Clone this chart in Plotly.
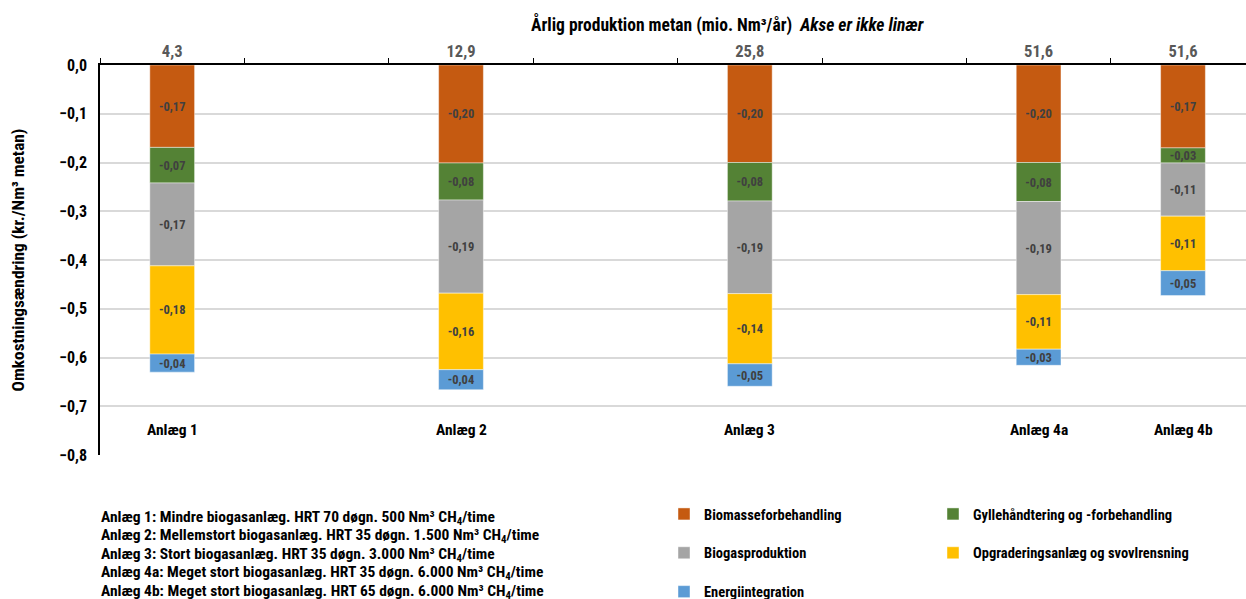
import plotly.graph_objects as go

# Plants and their annual methane production (mio. Nm³/år)
plants = ["Anlæg 1", "Anlæg 2", "Anlæg 3", "Anlæg 4a", "Anlæg 4b"]
production = ["4,3", "12,9", "25,8", "51,6", "51,6"]

# Cost change per cost component (kr./Nm³ metan)
biomasse = [-0.169, -0.201, -0.200, -0.200, -0.170]
gylle = [-0.073, -0.076, -0.079, -0.080, -0.031]
biogas = [-0.170, -0.191, -0.190, -0.191, -0.109]
opgradering = [-0.181, -0.157, -0.144, -0.112, -0.112]
energi = [-0.037, -0.041, -0.046, -0.033, -0.051]

series = [
    ("Biomasseforbehandling", biomasse, "#C55A11", "legend"),
    ("Gyllehåndtering og -forbehandling", gylle, "#548235", "legend2"),
    ("Biogasproduktion", biogas, "#A5A5A5", "legend"),
    ("Opgraderingsanlæg og svovlrensning", opgradering, "#FFC000", "legend2"),
    ("Energiintegration", energi, "#5B9BD5", "legend"),
]

descriptions = [
    "Anlæg 1: Mindre biogasanlæg. HRT 70 døgn. 500 Nm³ CH<sub>4</sub>/time",
    "Anlæg 2: Mellemstort biogasanlæg. HRT 35 døgn. 1.500 Nm³ CH<sub>4</sub>/time",
    "Anlæg 3: Stort biogasanlæg. HRT 35 døgn. 3.000 Nm³ CH<sub>4</sub>/time",
    "Anlæg 4a: Meget stort biogasanlæg. HRT 35 døgn. 6.000 Nm³ CH<sub>4</sub>/time",
    "Anlæg 4b: Meget stort biogasanlæg. HRT 65 døgn. 6.000 Nm³ CH<sub>4</sub>/time",
]

FONT = "Roboto Condensed, Open Sans Condensed, Liberation Sans, Arial, sans-serif"

# Plot area in pixels: left 100, top 65, bottom 455, right edge of the page
PL, PT, PB, PW = 100, 65, 455, 1146
PH = PB - PT


def px_x(x):
    return (x - PL) / PW


def px_y(y):
    return (PB - y) / PH


# Category slots on the x axis (empty slots keep the gaps between plants)
slots = [plants[0], " ", plants[1], "  ", plants[2], "   ", plants[3], plants[4]]
slot_text = [production[plants.index(s)] if s in plants else "" for s in slots]

fig = go.Figure()
for name, vals, color, leg in series:
    fig.add_trace(go.Bar(
        name=name,
        x=plants,
        y=vals,
        width=0.31,
        marker=dict(color=color, line=dict(color="rgba(255,255,255,0.55)", width=0.8)),
        texttemplate="%{y:.2f}",
        textposition="inside",
        insidetextanchor="middle",
        textangle=0,
        textfont=dict(family=FONT, size=12.5, color="#404040", weight="bold"),
        legend=leg,
        legendgroup=name,
        hoverinfo="skip",
    ))

annotations = []
for p in plants:
    annotations.append(dict(
        x=p, y=-0.748, xref="x", yref="y", text=p, showarrow=False,
        font=dict(family=FONT, size=15.5, color="#000000", weight="bold"),
    ))

annotations.append(dict(
    x=px_x(727), y=px_y(25), xref="paper", yref="paper",
    xanchor="center", yanchor="middle", showarrow=False,
    text="Årlig produktion metan (mio. Nm³/år)  <i>Akse er ikke linær</i>",
    font=dict(family=FONT, size=17.5, color="#000000", weight="bold"),
))

for k, line in enumerate(descriptions):
    yc = 518 + k * 18.4
    annotations.append(dict(
        x=px_x(99), y=px_y(yc), xref="paper", yref="paper",
        xanchor="left", yanchor="middle", showarrow=False, align="left",
        text=line,
        font=dict(family=FONT, size=15.5, color="#000000", weight="bold"),
    ))

legend_font = dict(family=FONT, size=14.5, color="#000000", weight="bold")

fig.update_layout(
    width=1246, height=599,
    margin=dict(l=PL, r=0, t=PT, b=599 - PB, autoexpand=False),
    paper_bgcolor="white", plot_bgcolor="white",
    barmode="relative",
    separators=",.",
    font=dict(family=FONT, color="#000000"),
    uniformtext=dict(minsize=12.5, mode="show"),
    annotations=annotations,
    xaxis=dict(
        type="category",
        categoryorder="array", categoryarray=slots,
        tickmode="array", tickvals=slots, ticktext=slot_text,
        tickson="boundaries",
        range=[-0.5, -0.5 + PW / 144.4],
        side="top",
        showline=True, linecolor="#000000", linewidth=1.5,
        ticks="outside", ticklen=5, tickcolor="#000000", tickwidth=1,
        showgrid=False,
        tickfont=dict(family=FONT, size=16.5, color="#595959", weight="bold"),
    ),
    yaxis=dict(
        range=[-0.8, 0],
        dtick=0.1, tickformat=".1f",
        showline=True, linecolor="#000000", linewidth=1.5,
        showgrid=True, gridcolor="#D9D9D9", gridwidth=1.5,
        zeroline=False,
        ticks="outside", ticklen=8, tickcolor="rgba(0,0,0,0)",
        tickfont=dict(family=FONT, size=16, color="#000000", weight="bold"),
        title=dict(
            text="Omkostningsændring (kr./Nm³ metan)",
            font=dict(family=FONT, size=17.3, color="#000000", weight="bold"),
            standoff=30,
        ),
    ),
    legend=dict(
        x=px_x(664), y=px_y(498), xanchor="left", yanchor="top",
        orientation="v", traceorder="grouped", tracegroupgap=17,
        font=legend_font, bgcolor="rgba(0,0,0,0)",
    ),
    legend2=dict(
        x=px_x(933), y=px_y(498), xanchor="left", yanchor="top",
        orientation="v", traceorder="grouped", tracegroupgap=17,
        font=legend_font, bgcolor="rgba(0,0,0,0)",
    ),
)

fig.write_html("out.html")
